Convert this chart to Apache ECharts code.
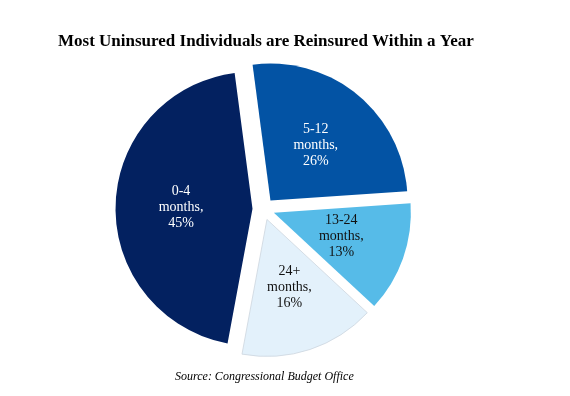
<!DOCTYPE html>
<html>
<head>
<meta charset="utf-8">
<script src="https://cdn.jsdelivr.net/npm/echarts@6/dist/echarts.min.js"></script>
<style>
  html, body { margin: 0; padding: 0; background: #fff; }
  #chart { width: 570px; height: 396px; }
</style>
</head>
<body>
<div id="chart"></div>
<script>
// slices clockwise, starting just left of 12 o'clock
const labels = ["5-12 months", "13-24 months", "24+ months", "0-4 months"];
const shares = [26, 13, 16, 45];
const colors = ["#0353a4", "#56bbe8", "#e3f1fb", "#032160"];
const labelColors = ["#ffffff", "#111111", "#111111", "#ffffff"];

const chart = echarts.init(document.getElementById("chart"));

function sliceStyle(i) {
    // the palest slice has a faint grey outline in the original
    return i === 2
        ? { color: colors[i], borderColor: "#cdd6de", borderWidth: 0.8 }
        : { color: colors[i], borderWidth: 0 };
}

chart.setOption({
    animation: false,
    title: [
        {
            text: "Most Uninsured Individuals are Reinsured Within a Year",
            left: 53,
            top: 28,
            textStyle: { fontFamily: "Liberation Serif", fontWeight: "bold", fontSize: 17, color: "#000" }
        },
        {
            text: "Source: Congressional Budget Office",
            left: 170,
            top: 366,
            textStyle: { fontFamily: "Liberation Serif", fontStyle: "italic", fontWeight: "normal", fontSize: 12, color: "#000" }
        }
    ],
    series: [{
        type: "pie",
        center: [263.5, 209],
        radius: [0, 137],
        startAngle: 97.5,
        clockwise: true,
        selectedMode: "multiple",
        selectedOffset: 11,
        emphasis: { disabled: true },
        label: {
            show: true,
            position: "inner",
            fontFamily: "Liberation Serif",
            fontSize: 14,
            lineHeight: 16,
            formatter: (p) => p.name.replace(" ", "\n") + ",\n" + p.value + "%"
        },
        labelLine: { show: false },
        data: labels.map((name, i) => ({
            name: name,
            value: shares[i],
            selected: true,
            itemStyle: sliceStyle(i),
            label: { color: labelColors[i] },
            select: { itemStyle: sliceStyle(i), label: { color: labelColors[i] } }
        }))
    }]
});
</script>
</body>
</html>
